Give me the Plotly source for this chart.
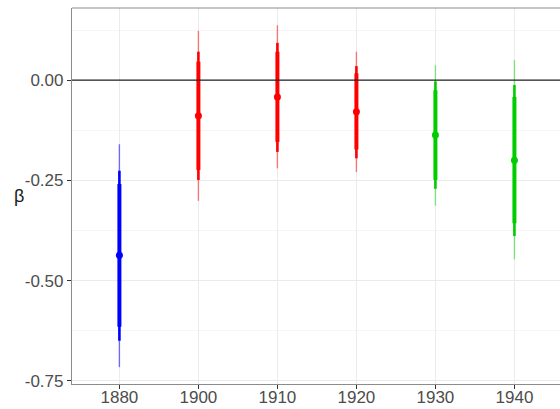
import plotly.graph_objects as go

# ---- data ----
years = ["1880", "1900", "1910", "1920", "1930", "1940"]
groups = ["blue", "red", "red", "red", "green", "green"]
estimate = [-0.437, -0.089, -0.042, -0.079, -0.137, -0.200]
ci99_lo = [-0.716, -0.301, -0.220, -0.229, -0.313, -0.447]
ci99_hi = [-0.160, 0.123, 0.137, 0.071, 0.037, 0.050]
ci95_lo = [-0.650, -0.249, -0.179, -0.195, -0.271, -0.389]
ci95_hi = [-0.226, 0.071, 0.093, 0.035, -0.003, -0.012]
ci90_lo = [-0.615, -0.224, -0.154, -0.173, -0.249, -0.357]
ci90_hi = [-0.259, 0.046, 0.071, 0.017, -0.025, -0.042]
y_ticks = [0.0, -0.25, -0.5, -0.75]
y_tick_labels = ["0.00", "-0.25", "-0.50", "-0.75"]

colors = {"blue": "#0000FF", "red": "#FF0000", "green": "#00CD00"}
light = {"blue": "rgba(0,0,255,0.55)", "red": "rgba(255,0,0,0.5)", "green": "rgba(0,205,0,0.45)"}

fig = go.Figure()

def seg(lo, hi, grp):
    xs, ys = [], []
    for i, g in enumerate(groups):
        if g == grp:
            xs += [i, i, None]
            ys += [lo[i], hi[i], None]
    return xs, ys

for grp in ["blue", "red", "green"]:
    xs, ys = seg(ci99_lo, ci99_hi, grp)
    fig.add_trace(go.Scatter(x=xs, y=ys, mode="lines", line=dict(color=light[grp], width=1.4),
                             hoverinfo="skip", showlegend=False))
    xs, ys = seg(ci95_lo, ci95_hi, grp)
    fig.add_trace(go.Scatter(x=xs, y=ys, mode="lines", line=dict(color=colors[grp], width=2.6),
                             hoverinfo="skip", showlegend=False))
    xs, ys = seg(ci90_lo, ci90_hi, grp)
    fig.add_trace(go.Scatter(x=xs, y=ys, mode="lines", line=dict(color=colors[grp], width=4),
                             hoverinfo="skip", showlegend=False))
    px = [i for i, g in enumerate(groups) if g == grp]
    py = [estimate[i] for i in px]
    fig.add_trace(go.Scatter(x=px, y=py, mode="markers",
                             marker=dict(color=colors[grp], size=7, line=dict(width=0)),
                             showlegend=False))

# zero reference line (drawn over the intervals)
fig.add_hline(y=0, line=dict(color="#222222", width=1.3), layer="above")

# top panel border
fig.add_shape(type="line", xref="paper", yref="paper", x0=0, x1=1, y0=1, y1=1,
              line=dict(color="#8c8c8c", width=1.2))

# unrotated y-axis title
fig.add_annotation(text="β", xref="paper", yref="paper", x=-0.108, y=0.5, xanchor="center",
                   yanchor="middle", showarrow=False, font=dict(size=18, color="#1a1a1a"))

fig.update_layout(
    width=560, height=409,
    margin=dict(l=72, r=0, t=8, b=25),
    paper_bgcolor="white", plot_bgcolor="white",
    font=dict(family="Liberation Sans, Arial, sans-serif", color="#4D4D4D", size=17),
    xaxis=dict(
        range=[-0.6, 5.577], automargin=False,
        tickvals=list(range(len(years))), ticktext=years,
        showgrid=True, gridcolor="#EBEBEB", gridwidth=1,
        zeroline=False, showline=True, linecolor="#8c8c8c", linewidth=1.2,
        ticks="outside", ticklen=4, tickcolor="#333333", tickwidth=1,
        ticklabelstandoff=-7,
        tickfont=dict(size=17, color="#4D4D4D"),
    ),
    yaxis=dict(
        range=[-0.758, 0.180], automargin=False,
        tickvals=y_ticks, ticktext=y_tick_labels,
        showgrid=True, gridcolor="#EBEBEB", gridwidth=1,
        minor=dict(tickvals=[0.125, -0.125, -0.375, -0.625], showgrid=True,
                   gridcolor="#F5F5F5", gridwidth=1, ticks=""),
        zeroline=False, showline=True, linecolor="#8c8c8c", linewidth=1.2,
        ticks="outside", ticklen=4, tickcolor="#333333", tickwidth=1,
        tickfont=dict(size=17, color="#4D4D4D"),
    ),
)

fig.write_html("out.html")
